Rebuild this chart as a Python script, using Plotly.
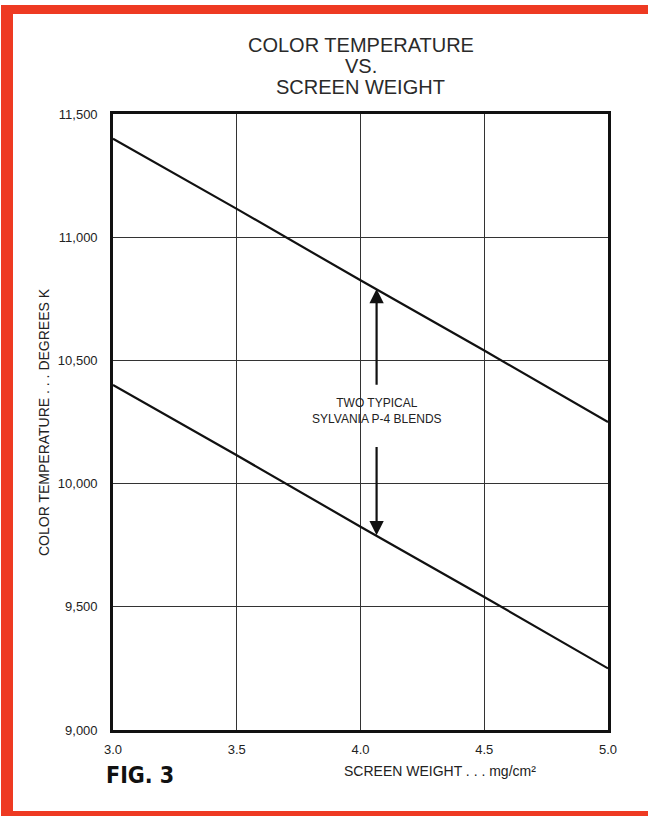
import plotly.graph_objects as go

# screen weight (mg/cm2) and colour temperature (K)
weight = [3.0, 3.5, 4.0, 4.5, 5.0]
blend_a = [11400, 11115, 10825, 10540, 10250]
blend_b = [10400, 10115, 9825, 9540, 9250]

x_ticks = [3.0, 3.5, 4.0, 4.5, 5.0]
y_ticks = [9000, 9500, 10000, 10500, 11000, 11500]

# arrow positions (x, tail y, head y)
arrow_x = 4.065
arrow_up = (10395, 10790)
arrow_down = (10155, 9790)

W, H = 648, 816
L, R, T, B = 113, 40, 114, 86
PW, PH = W - L - R, H - T - B


def xp(px):
    return (px - L) / PW


def yp(py):
    return (H - B - py) / PH


RED = "#ee3a22"
FONT = "Liberation Sans, Arial, sans-serif"

fig = go.Figure()
for ys in (blend_a, blend_b):
    fig.add_trace(go.Scatter(x=weight, y=ys, mode="lines",
                             line=dict(color="#111", width=2.2),
                             showlegend=False, hoverinfo="skip"))

fig.update_xaxes(range=[3.0, 5.0], tickvals=x_ticks, tickformat=".1f",
                 showgrid=True, gridcolor="#333", gridwidth=1,
                 showline=True, linecolor="#111", linewidth=2.6, mirror=True,
                 ticks="outside", ticklen=6, tickcolor="rgba(0,0,0,0)",
                 tickfont=dict(size=13, color="#222", family=FONT),
                 zeroline=False, fixedrange=True)
fig.update_yaxes(range=[9000, 11500], tickvals=y_ticks, tickformat=",",
                 showgrid=True, gridcolor="#333", gridwidth=1,
                 showline=True, linecolor="#111", linewidth=2.6, mirror=True,
                 ticks="outside", ticklen=10, tickcolor="rgba(0,0,0,0)",
                 tickfont=dict(size=13, color="#222", family=FONT),
                 zeroline=False, fixedrange=True)

ann = []
for i, line in enumerate(["COLOR TEMPERATURE", "VS.", "SCREEN WEIGHT"]):
    ann.append(dict(text=line, x=0.5, y=yp(45 + 21 * i), xref="paper", yref="paper",
                    showarrow=False, xanchor="center", yanchor="middle",
                    font=dict(size=20, color="#2a2a2a", family=FONT)))

ann.append(dict(text="COLOR TEMPERATURE . . . DEGREES K", textangle=-90,
                x=xp(44), y=0.5, xref="paper", yref="paper", showarrow=False,
                xanchor="center", yanchor="middle",
                font=dict(size=14, color="#222", family=FONT)))
ann.append(dict(text="SCREEN WEIGHT . . . mg/cm²", x=xp(440), y=yp(771),
                xref="paper", yref="paper", showarrow=False,
                xanchor="center", yanchor="middle",
                font=dict(size=14, color="#222", family=FONT)))
ann.append(dict(text="<b>FIG. 3</b>", x=xp(104), y=yp(775),
                xref="paper", yref="paper", showarrow=False,
                xanchor="left", yanchor="middle",
                font=dict(size=23, color="#111",
                          family="DejaVu Sans Condensed, Liberation Sans, sans-serif")))
ann.append(dict(text="TWO TYPICAL<br>SYLVANIA P-4 BLENDS", x=arrow_x, y=10295,
                showarrow=False, xanchor="center", yanchor="middle",
                font=dict(size=12, color="#222", family=FONT)))
for tail, head in (arrow_up, arrow_down):
    ann.append(dict(x=arrow_x, y=head, ax=arrow_x, ay=tail, axref="x", ayref="y",
                    text="", showarrow=True, arrowhead=2, arrowsize=1.3,
                    arrowwidth=2.2, arrowcolor="#111"))

shapes = [
    dict(type="rect", xref="paper", yref="paper", x0=xp(1), x1=xp(13),
         y0=yp(816), y1=yp(5), fillcolor=RED, line=dict(width=0), layer="above"),
    dict(type="rect", xref="paper", yref="paper", x0=xp(1), x1=xp(648),
         y0=yp(14), y1=yp(5), fillcolor=RED, line=dict(width=0), layer="above"),
    dict(type="rect", xref="paper", yref="paper", x0=xp(1), x1=xp(648),
         y0=yp(816), y1=yp(811), fillcolor=RED, line=dict(width=0), layer="above"),
]

fig.update_layout(width=W, height=H, margin=dict(l=L, r=R, t=T, b=B),
                  paper_bgcolor="white", plot_bgcolor="white",
                  annotations=ann, shapes=shapes, showlegend=False)

fig.write_html("out.html", config={"displayModeBar": False},
               post_script="document.body.style.margin='0';")
